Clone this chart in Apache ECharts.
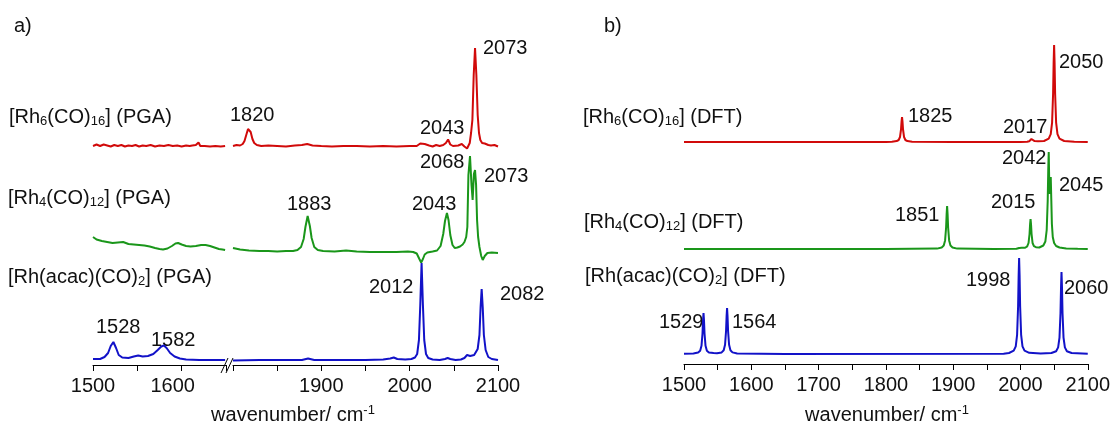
<!DOCTYPE html>
<html>
<head>
<meta charset="utf-8">
<script src="https://cdn.jsdelivr.net/npm/echarts@6/dist/echarts.min.js"></script>
<style>
  html, body { margin: 0; padding: 0; background: #fff; }
  #chart { width: 1113px; height: 429px; }
</style>
</head>
<body>
<div id="chart"></div>
<script>
// ---- data (wavenumber, offset intensity) ----
// a) PGA spectra, low range (1500-1650) and high range (1800-2100)
const redPgaLow = [[1500,219],[1504,220.5],[1508,219],[1512,220.5],[1516,219.5],[1520,218.5],[1524,220],[1528,219],[1532,220],[1536,218.5],[1540,219.5],[1544,219],[1548,220],[1552,218.5],[1556,219.5],[1560,219],[1565,220],[1570,218.5],[1575,219.5],[1580,219],[1585,220],[1590,219],[1595,219.5],[1600,218.5],[1605,219.5],[1609,219],[1612,219.5],[1616,220],[1619,222.5],[1621,219],[1626,219],[1632,218.5],[1638,219],[1644,218.5],[1649,219]];
const redPgaHigh = [[1800,219],[1804,220],[1808,219.5],[1811,221],[1813,224],[1815,230],[1817,236],[1818,237],[1820,233],[1822,226],[1824,222],[1827,220],[1832,219],[1840,219.5],[1850,219],[1860,218.5],[1870,219.5],[1878,220],[1884,221],[1890,219.5],[1900,219],[1912,218.5],[1925,219],[1940,219],[1955,218.5],[1970,219],[1985,218.5],[2000,219],[2008,219],[2012,221.5],[2014,222.5],[2017,221],[2019,222],[2022,219.5],[2026,218.5],[2030,220],[2034,219],[2038,220],[2041,222],[2043.5,225.5],[2046,220.5],[2049,219],[2051,218.5],[2055,219.5],[2059,221],[2062,218.5],[2065,216.5],[2066.5,216],[2068,222],[2069.5,232],[2071,245],[2072.5,290],[2074,317],[2075.5,290],[2077,250],[2078.5,232],[2080,225],[2082,222],[2085,221.5],[2087,223],[2089,220],[2092,219.5],[2096,220],[2100,218.5]];
const greenPgaLow = [[1500,128],[1504,125.5],[1510,124],[1516,123],[1522,122],[1528,122.5],[1534,123],[1540,121],[1546,120.5],[1552,120],[1558,119.5],[1564,118.5],[1570,117],[1575,116],[1579,115.5],[1584,116.5],[1589,119],[1593,121.5],[1596,122],[1600,120.5],[1605,119],[1610,118.5],[1616,119],[1622,120],[1627,120],[1632,119],[1637,117.5],[1642,116],[1646,115.5],[1649,115]];
const greenPgaHigh = [[1800,117],[1808,115.5],[1818,114.5],[1830,114],[1840,114],[1850,113.5],[1860,114],[1868,114],[1873,115],[1877,118],[1880,126],[1882,138],[1884.5,149],[1887,139],[1889,127],[1892,118],[1896,115],[1902,114],[1915,113.5],[1928,114.5],[1940,113.5],[1955,113],[1970,113],[1985,113],[1998,113.5],[2004,113],[2008,111.5],[2011,106],[2013,102.5],[2015,106],[2017,110.5],[2020,112.5],[2026,113.5],[2031,114.5],[2035,119],[2038,131],[2040,144],[2042.2,152],[2044,145],[2046,130],[2048.5,120],[2051,117],[2054,117.5],[2057,118.5],[2060,120.5],[2062,123],[2064,128],[2065.3,138],[2066.5,190],[2068.3,209],[2070,180],[2071.3,165],[2072.7,191],[2074,195],[2075.2,180],[2076.3,145],[2077.5,128],[2079,118],[2081,109],[2082.7,105],[2085,109],[2088,112],[2093,112.5],[2100,112]];
const bluePgaLow = [[1500,6],[1508,6],[1513,8],[1517,12],[1520,19],[1523,23],[1526,17],[1529,10],[1533,7.5],[1540,7],[1546,8.5],[1551,9.5],[1556,8.5],[1562,9],[1568,11],[1573,15],[1577,18.5],[1580,19.5],[1583,17],[1587,12],[1592,8.5],[1598,6.5],[1605,5.5],[1620,5],[1649,5]];
const bluePgaHigh = [[1800,4.5],[1830,5],[1860,5],[1878,5],[1885,6.5],[1892,5],[1920,5],[1950,5],[1970,5.5],[1978,6.5],[1982,7.5],[1986,6],[1995,5.5],[2002,6],[2006,7.5],[2008.5,11],[2010.5,25],[2012,60],[2013.5,102],[2015,60],[2016.5,25],[2018.5,11],[2021,7],[2026,5.5],[2034,5],[2040,6],[2043,7],[2046,6],[2052,5],[2058,5.5],[2062,7],[2065,10],[2066.5,11],[2068.5,9],[2070.5,9.5],[2073,10],[2075,12],[2077,16],[2079,30],[2080.3,58],[2081.5,76],[2082.7,58],[2084,30],[2086,15],[2089,8],[2093,6],[2100,5]];

// b) DFT spectra
const redDft = [[1500,222],[1700,222],[1800,222.1],[1809,222.3],[1816,222.9],[1819,224],[1821,227],[1822.5,234.5],[1823.3,242.5],[1824,247],[1824.7,242.5],[1825.5,234.5],[1827,227],[1829,224],[1832,222.9],[1839,222.3],[1900,222],[2000,222.1],[2010,222.3],[2013,222.8],[2015,223.6],[2016.3,225],[2017,226],[2017.7,225],[2019,223.6],[2021,222.9],[2026,222.7],[2035,223],[2042,225.3],[2045,229.8],[2047,241.4],[2048.5,270.5],[2049.3,301.5],[2050,319],[2050.7,301.5],[2051.5,270.5],[2053,241.4],[2055,229.8],[2058,225.3],[2065,223],[2080,222.3],[2100,222]];
const greenDft = [[1500,115],[1800,115],[1876,115.4],[1883,116.5],[1886,118.4],[1888,123.6],[1889.5,136.5],[1890.3,150],[1891,158],[1891.7,150],[1892.5,136.5],[1894,123.6],[1896,118.4],[1899,116.5],[1906,115.4],[1960,115],[1994,115.2],[1998,116],[2000,118],[2002,116.2],[2007,116.2],[2010,117.6],[2012,121],[2013.5,130],[2014.3,139.6],[2015,145],[2015.7,139.6],[2016.5,130],[2018,121],[2020,117.8],[2023,116.8],[2028,116.5],[2034,118.5],[2037,122.5],[2039,134],[2040.5,163.5],[2041.3,194],[2042,212],[2042.8,180],[2043.5,170],[2044.3,180],[2045,187],[2045.8,165],[2046.7,140],[2048,127],[2050,121],[2053,118],[2058,116.5],[2068,115.6],[2085,115.2],[2100,115]];
const blueDft = [[1500,10.3],[1514,10.4],[1521,11.4],[1524,13.3],[1526,18.2],[1527.5,30.5],[1528.3,43.6],[1529,51],[1529.7,43.6],[1530.5,30.5],[1532,18.2],[1534,13.3],[1537,11.6],[1544,11],[1549,10.8],[1556,11.6],[1559,13.7],[1561,19.2],[1562.5,33],[1563.3,47.7],[1564,56],[1564.7,47.7],[1565.5,33],[1567,19.2],[1569,13.7],[1572,11.6],[1579,10.5],[1650,10],[1975,10.3],[1983,11],[1990,13.3],[1993,17.7],[1995,29.2],[1996.5,58],[1997.3,88.7],[1998,106],[1998.7,88.7],[1999.5,58],[2001,29.2],[2003,17.7],[2006,13.3],[2013,11.2],[2030,10.5],[2046,11],[2053,12.8],[2056,16.6],[2058,26.4],[2059.5,51],[2060.3,77],[2061,92],[2061.7,77],[2062.5,51],[2064,26.4],[2066,16.6],[2069,12.8],[2076,11],[2100,10.3]];

// tick labels shown on each axis
const ticksALow = [1500, 1600];
const ticksAHigh = [1900, 2000, 2100];
const ticksB = [1500, 1600, 1700, 1800, 1900, 2000, 2100];

const RED = '#d10a0a', GREEN = '#1a961a', BLUE = '#1212c8';
const FONT = '"Liberation Sans", Arial, sans-serif';

function xAxisOf(grid, min, max, shown, shifted) {
  return {
    type: 'value', gridIndex: grid, min: min, max: max, interval: 50,
    axisLine: { show: true, onZero: false, lineStyle: { color: '#000', width: 1 } },
    axisTick: { show: true, length: 6, lineStyle: { color: '#000', width: 1 } },
    axisLabel: {
      margin: 11, fontSize: 20, color: '#111', fontFamily: FONT,
      showMinLabel: true, showMaxLabel: true,
      formatter: v => {
        if (shown.indexOf(v) < 0) return '';
        return shifted && shifted.indexOf(v) >= 0 ? '{l|' + v + '}' : String(v);
      },
      rich: { l: { fontSize: 20, color: '#111', fontFamily: FONT, padding: [0, 18, 0, 0] } }
    },
    splitLine: { show: false }
  };
}
function yAxisOf(grid, h) {
  return { type: 'value', gridIndex: grid, min: 0, max: h, show: false, splitLine: { show: false } };
}
function line(data, color, xi) {
  return {
    type: 'line', data: data, xAxisIndex: xi, yAxisIndex: xi,
    showSymbol: false, symbol: 'none', smooth: false, silent: true,
    lineStyle: { color: color, width: 2 }, z: 3
  };
}

// text helpers
const subRich = {
  s: { fontSize: 13, fontFamily: FONT, verticalAlign: 'bottom', lineHeight: 10, fill: '#111' },
  p: { fontSize: 13, fontFamily: FONT, verticalAlign: 'top', lineHeight: 10, fill: '#111' }
};
function txt(x, y, s, align) {
  return {
    type: 'text', x: x, y: y, silent: true,
    style: {
      text: s, fill: '#111', fontSize: 20, fontFamily: FONT,
      align: align || 'left', verticalAlign: 'middle', lineHeight: 22, rich: subRich
    }
  };
}

const graphics = [
  txt(14, 26, 'a)'), txt(604, 26, 'b)'),
  txt(9, 117, '[Rh{s|6}(CO){s|16}] (PGA)'),
  txt(8, 198, '[Rh{s|4}(CO){s|12}] (PGA)'),
  txt(8, 277, '[Rh(acac)(CO){s|2}] (PGA)'),
  txt(583, 117, '[Rh{s|6}(CO){s|16}] (DFT)'),
  txt(584, 222, '[Rh{s|4}(CO){s|12}] (DFT)'),
  txt(585, 276, '[Rh(acac)(CO){s|2}] (DFT)'),
  // peak labels a)
  txt(230, 115, '1820'), txt(420, 128, '2043'), txt(483, 48, '2073'),
  txt(420, 162, '2068'), txt(484, 176, '2073'), txt(287, 204, '1883'),
  txt(412, 204, '2043'), txt(369, 287, '2012'), txt(500, 294, '2082'),
  txt(96, 327, '1528'), txt(151, 340, '1582'),
  // peak labels b)
  txt(908, 116, '1825'), txt(1003, 127, '2017'), txt(1059, 62, '2050'),
  txt(1002, 158, '2042'), txt(1059, 185, '2045'), txt(991, 202, '2015'),
  txt(895, 215, '1851'), txt(966, 280, '1998'), txt(1064, 288, '2060'),
  txt(659, 322, '1529'), txt(732, 322, '1564'),
  // axis titles
  txt(293, 415, 'wavenumber/ cm{p|-1}', 'center'),
  txt(887, 415, 'wavenumber/ cm{p|-1}', 'center'),
  // axis break marks
  { type: 'line', silent: true, shape: { x1: 221, y1: 373, x2: 228, y2: 358 }, style: { stroke: '#000', lineWidth: 1 } },
  { type: 'line', silent: true, shape: { x1: 226, y1: 373, x2: 233, y2: 358 }, style: { stroke: '#000', lineWidth: 1 } }
];

const option = {
  animation: false,
  backgroundColor: '#fff',
  textStyle: { fontFamily: FONT },
  grid: [
    { left: 93, width: 133, top: 35, height: 330 },
    { left: 233, width: 265, top: 35, height: 330 },
    { left: 684, width: 406, top: 36, height: 328 }
  ],
  xAxis: [
    xAxisOf(0, 1500, 1650, ticksALow, [1600]),
    xAxisOf(1, 1800, 2100, ticksAHigh),
    xAxisOf(2, 1500, 2100, ticksB)
  ],
  yAxis: [yAxisOf(0, 330), yAxisOf(1, 330), yAxisOf(2, 328)],
  series: [
    line(redPgaLow, RED, 0), line(redPgaHigh, RED, 1),
    line(greenPgaLow, GREEN, 0), line(greenPgaHigh, GREEN, 1),
    line(bluePgaLow, BLUE, 0), line(bluePgaHigh, BLUE, 1),
    line(redDft, RED, 2), line(greenDft, GREEN, 2), line(blueDft, BLUE, 2)
  ],
  graphic: graphics
};

let myChart = echarts.init(document.getElementById('chart'));
myChart.setOption(option);
</script>
</body>
</html>
